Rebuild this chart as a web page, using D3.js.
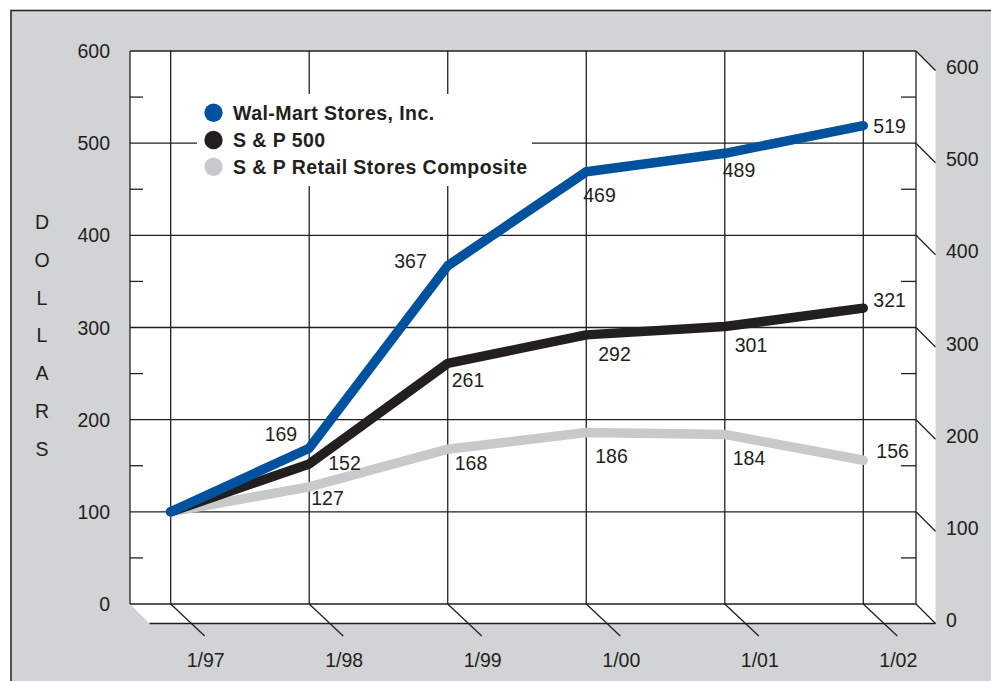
<!DOCTYPE html>
<html>
<head>
<meta charset="utf-8">
<script src="https://cdn.jsdelivr.net/npm/d3@7"></script>
<style>
  html, body { margin: 0; padding: 0; background: #ffffff; }
  svg { display: block; font-family: "Liberation Sans", Arial, Helvetica, sans-serif; }
</style>
</head>
<body>
<svg id="chart" width="991" height="681"></svg>
<script>
// ---- data ----
const categories = ["1/97", "1/98", "1/99", "1/00", "1/01", "1/02"];
const walmart = [100, 169, 367, 469, 489, 519];
const sp500 = [100, 152, 261, 292, 301, 321];
const retail = [100, 127, 168, 186, 184, 156];
const seriesNames = ["Wal-Mart Stores, Inc.", "S & P 500", "S & P Retail Stores Composite"];
const yTicks = [0, 100, 200, 300, 400, 500, 600];
const yMinorTicks = [50, 150, 250, 350, 450, 550];
const axisTitle = "DOLLARS";

// ---- layout ----
const svg = d3.select("#chart");
const W = 991, H = 681;
const plot = { left: 130, right: 916, top: 51, bottom: 604 };
const depth = { dx: 19.5, dy: 19.5 };
const ink = "#231f20";
const bg = "#d1d3d4";
const colors = ["#00519e", "#231f20", "#c8c9cb"];

const x = d3.scalePoint().domain(categories).range([170.7, 863.3]);
const y = d3.scaleLinear().domain([0, 600]).range([plot.bottom, plot.top]);

// outer panel
svg.append("rect").attr("x", 11).attr("y", 10.5).attr("width", W).attr("height", H)
  .attr("fill", bg).attr("stroke", ink).attr("stroke-width", 1.5);

// back wall
svg.append("rect").attr("x", plot.left).attr("y", plot.top)
  .attr("width", plot.right - plot.left).attr("height", plot.bottom - plot.top)
  .attr("fill", "#ffffff");

// side wall
svg.append("polygon")
  .attr("points", [[plot.right, plot.top], [plot.right + depth.dx, plot.top + depth.dy],
                   [plot.right + depth.dx, plot.bottom + depth.dy], [plot.right, plot.bottom]].join(" "))
  .attr("fill", "#ffffff");

// floor
svg.append("polygon")
  .attr("points", [[plot.left, plot.bottom], [plot.right, plot.bottom],
                   [plot.right + depth.dx, plot.bottom + depth.dy], [plot.left + depth.dx, plot.bottom + depth.dy]].join(" "))
  .attr("fill", "#ffffff");

const grid = svg.append("g").attr("stroke", ink).attr("stroke-width", 1.3).attr("fill", "none");

// horizontal gridlines
grid.selectAll(".hg").data(yTicks).join("line")
  .attr("x1", plot.left).attr("x2", plot.right)
  .attr("y1", d => y(d)).attr("y2", d => y(d));

// vertical gridlines
grid.selectAll(".vg").data(categories).join("line")
  .attr("x1", d => x(d)).attr("x2", d => x(d))
  .attr("y1", plot.top).attr("y2", plot.bottom);

// frame left/right
grid.append("line").attr("x1", plot.left).attr("x2", plot.left).attr("y1", plot.top).attr("y2", plot.bottom);
grid.append("line").attr("x1", plot.right).attr("x2", plot.right).attr("y1", plot.top).attr("y2", plot.bottom);

// minor ticks left and right
grid.selectAll(".ml").data(yMinorTicks).join("line")
  .attr("x1", plot.left).attr("x2", plot.left + 13)
  .attr("y1", d => y(d)).attr("y2", d => y(d));
grid.selectAll(".mr").data(yMinorTicks).join("line")
  .attr("x1", plot.right - 15).attr("x2", plot.right)
  .attr("y1", d => y(d)).attr("y2", d => y(d));

// side diagonals
grid.selectAll(".sd").data(yTicks).join("line")
  .attr("x1", plot.right).attr("x2", plot.right + depth.dx)
  .attr("y1", d => y(d)).attr("y2", d => y(d) + depth.dy);

// floor front edge
grid.append("line").attr("x1", plot.left + depth.dx).attr("x2", plot.right + depth.dx)
  .attr("y1", plot.bottom + depth.dy).attr("y2", plot.bottom + depth.dy);

// category diagonal ticks
grid.selectAll(".cd").data(categories).join("line")
  .attr("x1", d => x(d)).attr("x2", d => x(d) + 34)
  .attr("y1", plot.bottom).attr("y2", plot.bottom + 32);

// axis labels
const fs = 19.5;
svg.append("g").selectAll("text").data(yTicks).join("text")
  .attr("x", 110).attr("y", d => y(d)).attr("dy", "0.36em")
  .attr("text-anchor", "end").attr("font-size", fs).attr("fill", ink)
  .text(d => d);
svg.append("g").selectAll("text").data(yTicks).join("text")
  .attr("x", 946).attr("y", d => y(d) + 16).attr("dy", "0.36em")
  .attr("text-anchor", "start").attr("font-size", fs).attr("fill", ink)
  .text(d => d);
svg.append("g").selectAll("text").data(categories).join("text")
  .attr("x", d => x(d) + 35).attr("y", 660).attr("dy", "0.36em")
  .attr("text-anchor", "middle").attr("font-size", fs).attr("fill", ink)
  .text(d => d);
svg.append("g").selectAll("text").data(axisTitle.split("")).join("text")
  .attr("x", 42).attr("y", (d, i) => 222 + i * 37.8).attr("dy", "0.36em")
  .attr("text-anchor", "middle").attr("font-size", fs).attr("fill", ink)
  .text(d => d);

// legend box
svg.append("rect").attr("x", 197).attr("y", 94).attr("width", 335).attr("height", 92).attr("fill", "#ffffff");
const legendY = [112.7, 140, 166.7];
const leg = svg.append("g");
seriesNames.forEach((name, i) => {
  leg.append("circle").attr("cx", 213.5).attr("cy", legendY[i]).attr("r", 9.2).attr("fill", colors[i]);
  leg.append("text").attr("x", 233).attr("y", legendY[i]).attr("dy", "0.36em")
    .attr("font-size", 19.5).attr("font-weight", "bold").attr("letter-spacing", 0.45)
    .attr("fill", ink).text(name);
});

// lines
const allSeries = [walmart, sp500, retail];
const line = d3.line().x((d, i) => x(categories[i])).y(d => y(d));
[2, 1, 0].forEach(si => {
  svg.append("path").datum(allSeries[si])
    .attr("d", line)
    .attr("fill", "none").attr("stroke", colors[si]).attr("stroke-width", 9.5)
    .attr("stroke-linecap", "round").attr("stroke-linejoin", "round");
});

// value labels: placement offsets relative to each point [dx, dy, anchor]
const labelPlacement = [
  [null, [-12, -14, "end"], [-21, -5, "end"], [-3, 23, "start"], [-2, 17, "start"], [10, 0, "start"]],
  [null, [19, -1, "start"], [4, 17, "start"], [12, 19, "start"], [10, 18, "start"], [10, -8, "start"]],
  [null, [2, 11, "start"], [7, 14, "start"], [9, 23, "start"], [8, 24, "start"], [13, -9, "start"]]
];
const lbl = svg.append("g").attr("font-size", fs).attr("fill", ink);
allSeries.forEach((vals, si) => {
  vals.forEach((v, i) => {
    const p = labelPlacement[si][i];
    if (!p) return;
    lbl.append("text")
      .attr("x", x(categories[i]) + p[0]).attr("y", y(v) + p[1]).attr("dy", "0.36em")
      .attr("text-anchor", p[2]).text(v);
  });
});
</script>
</body>
</html>
